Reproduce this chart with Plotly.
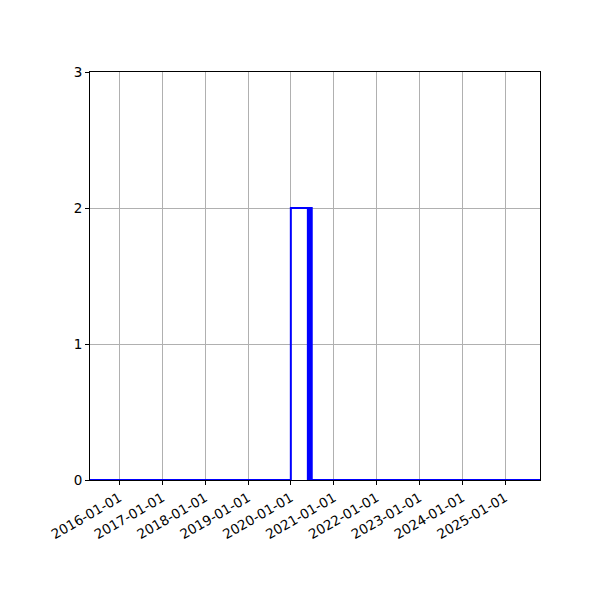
import plotly.graph_objects as go

# step histogram outline (bin edges / counts)
bin_edges = ["2015-04-25", "2020-01-01", "2020-05-23", "2020-06-26", "2025-10-25"]
counts = [0, 2, 2, 0]
# narrow, densely packed bins near the right edge of the bar
dense_start = "2020-05-23"
dense_end = "2020-06-26"
dense_count = 2

tick_dates = ["2016-01-01", "2017-01-01", "2018-01-01", "2019-01-01", "2020-01-01",
              "2021-01-01", "2022-01-01", "2023-01-01", "2024-01-01", "2025-01-01"]
y_ticks = [0, 1, 2, 3]

# build step path from edges and counts
xs, ys = [bin_edges[0]], [0]
for i, c in enumerate(counts):
    xs += [bin_edges[i], bin_edges[i + 1]]
    ys += [c, c]
xs.append(bin_edges[-1])
ys.append(0)

fig = go.Figure()
fig.add_trace(go.Scatter(x=[dense_start, dense_start, dense_end, dense_end],
                         y=[0, dense_count, dense_count, 0],
                         mode="lines", fill="toself", fillcolor="blue",
                         line=dict(color="blue", width=1.5), hoverinfo="skip"))
fig.add_trace(go.Scatter(x=xs, y=ys, mode="lines",
                         line=dict(color="blue", width=2)))

fig.update_layout(
    width=600, height=600,
    margin=dict(l=82, r=68, t=64, b=128),
    plot_bgcolor="white", paper_bgcolor="white",
    showlegend=False,
    font=dict(family="DejaVu Sans", size=13.5, color="black"),
)
fig.update_xaxes(
    range=[bin_edges[0], bin_edges[-1]],
    tickvals=tick_dates, ticktext=tick_dates, tickangle=-30,
    showgrid=True, gridcolor="#b0b0b0", gridwidth=1,
    showline=True, linecolor="black", linewidth=1, mirror=True,
    ticks="outside", ticklen=4, tickcolor="black", zeroline=False,
)
fig.update_yaxes(
    range=[0, 3], tickvals=y_ticks,
    showgrid=True, gridcolor="#b0b0b0", gridwidth=1,
    showline=True, linecolor="black", linewidth=1, mirror=True,
    ticks="outside", ticklen=4, tickcolor="black", zeroline=False,
)

fig.write_html("out.html")
